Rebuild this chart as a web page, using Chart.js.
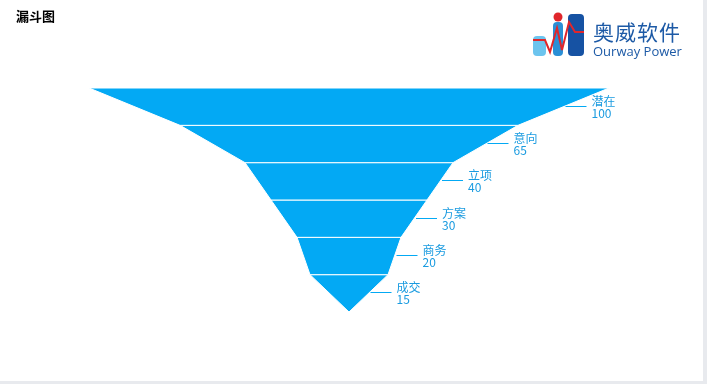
<!DOCTYPE html>
<html>
<head>
<meta charset="utf-8">
<script src="https://cdn.jsdelivr.net/npm/chart.js@4.4.1/dist/chart.umd.min.js"></script>
<style>
  html, body { margin: 0; padding: 0; background: #e8eaee; }
  .box { position: relative; width: 703px; height: 381px; background: #fff; }
  .logo { position: absolute; left: 531px; top: 10px; width: 160px; height: 50px; }
  .logo svg { position: absolute; left: 0; top: 0; }
  .logo .cn { position: absolute; left: 62px; top: 9px; font: 21px "Noto Sans CJK SC", sans-serif; color: #1d5aa6; line-height: 24px; letter-spacing: 1px; white-space: nowrap; }
  .logo .en { position: absolute; left: 62px; top: 33px; font: 13px "Open Sans", sans-serif; color: #1d5aa6; line-height: 16px; white-space: nowrap; }
</style>
</head>
<body>
<div class="box">
  <canvas id="chart"></canvas>
  <div class="logo">
    <svg width="56" height="50" viewBox="0 0 56 50">
      <rect x="2" y="26" width="13" height="20" rx="4" fill="#6cc4ee"/>
      <rect x="22" y="12" width="10" height="34" rx="4" fill="#2a8fd6"/>
      <rect x="37" y="4" width="16" height="42" rx="4" fill="#1652a3"/>
      <circle cx="27" cy="7" r="4.5" fill="#e0262b"/>
      <polyline points="2,30 14,30 19,42 26,18 31,40 38,12 44,22 53,22" fill="none" stroke="#e0262b" stroke-width="2"/>
    </svg>
    <div class="cn">奥威软件</div>
    <div class="en">Ourway Power</div>
  </div>
</div>
<script>
// funnel stages, top to bottom
const stages = ['潜在', '意向', '立项', '方案', '商务', '成交'];
const values = [100, 65, 40, 30, 20, 15];

const fillColor = '#03a9f4';
const textColor = '#1a9be0';

// one closed trapezoid per stage: top width = its value, bottom width = next value
const segments = stages.map((s, i) => {
  const top = values[i] / 2;
  const bot = (i + 1 < values.length ? values[i + 1] : 0) / 2;
  return {
    label: s,
    data: [
      { x: -top, y: i }, { x: top, y: i },
      { x: bot, y: i + 1 }, { x: -bot, y: i + 1 },
      { x: -top, y: i }
    ],
    fill: 'shape',
    backgroundColor: fillColor,
    borderColor: '#ffffff',
    borderWidth: 1,
    pointRadius: 0,
    tension: 0
  };
});

// leader lines and labels on the right side, plus the title
const funnelLabels = {
  id: 'funnelLabels',
  afterDatasetsDraw(chart) {
    const { ctx, scales } = chart;
    ctx.save();
    for (let i = 0; i < stages.length; i++) {
      const next = i + 1 < values.length ? values[i + 1] : 0;
      const midY = scales.y.getPixelForValue(i + 0.5);
      const edgeX = scales.x.getPixelForValue((values[i] + next) / 4);
      ctx.strokeStyle = fillColor;
      ctx.lineWidth = 1;
      ctx.beginPath();
      ctx.moveTo(edgeX + 2, Math.round(midY) - 0.5);
      ctx.lineTo(edgeX + 23, Math.round(midY) - 0.5);
      ctx.stroke();
      ctx.fillStyle = textColor;
      ctx.font = '12px "Noto Sans CJK SC", sans-serif';
      ctx.textAlign = 'left';
      ctx.textBaseline = 'middle';
      ctx.fillText(stages[i], edgeX + 28, midY - 5.5);
      ctx.fillText(String(values[i]), edgeX + 28, midY + 6.5);
    }
    ctx.fillStyle = '#000';
    ctx.font = 'bold 13px "Noto Sans CJK SC", sans-serif';
    ctx.textBaseline = 'middle';
    ctx.fillText('漏斗图', 16, 16);
    ctx.restore();
  }
};

new Chart(document.getElementById('chart'), {
  type: 'line',
  data: { datasets: segments },
  options: {
    responsive: true,
    maintainAspectRatio: false,
    animation: false,
    layout: { padding: { left: 89, right: 94, top: 88, bottom: 69 } },
    scales: {
      x: { type: 'linear', min: -50, max: 50, display: false },
      y: { type: 'linear', min: 0, max: 6, reverse: true, display: false }
    },
    plugins: {
      legend: { display: false },
      tooltip: { enabled: false }
    }
  },
  plugins: [funnelLabels]
});
</script>
</body>
</html>
